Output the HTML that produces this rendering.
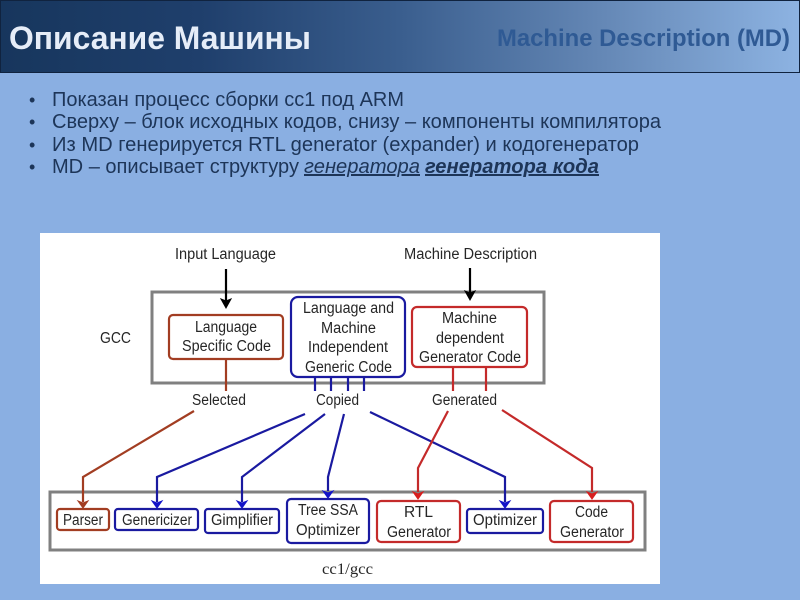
<!DOCTYPE html>
<html><head><meta charset="utf-8">
<style>
html,body{margin:0;padding:0;width:800px;height:600px;overflow:hidden;background:#8aafe2}
svg{display:block}
text{font-family:"Liberation Sans",sans-serif}
.d{filter:blur(.35px)}
.d text{fill:#262626;font-size:15.5px}
</style></head><body>
<svg width="800" height="600" viewBox="0 0 800 600" xmlns="http://www.w3.org/2000/svg">
<defs>
<linearGradient id="h" x1="0" x2="1" y1="0" y2="0">
<stop offset="0" stop-color="#17365d"/><stop offset=".25" stop-color="#1f3f6c"/><stop offset=".5" stop-color="#3a5e8e"/><stop offset=".75" stop-color="#6487b5"/><stop offset="1" stop-color="#8db3e2"/>
</linearGradient>
</defs>
<rect width="800" height="600" fill="#8aafe2"/>
<rect x="0.5" y="0.5" width="799" height="72" fill="url(#h)" stroke="#10233f"/>
<text x="9" y="49" font-size="32" font-weight="bold" fill="#e6edf8" textLength="302" lengthAdjust="spacingAndGlyphs">Описание Машины</text>
<text x="497" y="46" font-size="24" font-weight="bold" fill="#2f5a94" textLength="293" lengthAdjust="spacingAndGlyphs">Machine Description (MD)</text>
<g font-size="20" fill="#1d3558">
<text x="29" y="106" font-size="18">•</text>
<text x="52" y="106" textLength="352" lengthAdjust="spacingAndGlyphs">Показан процесс сборки cc1 под ARM</text>
<text x="29" y="128" font-size="18">•</text>
<text x="52" y="128" textLength="609" lengthAdjust="spacingAndGlyphs">Сверху – блок исходных кодов, снизу – компоненты компилятора</text>
<text x="29" y="151" font-size="18">•</text>
<text x="52" y="151" textLength="587" lengthAdjust="spacingAndGlyphs">Из MD генерируется RTL generator (expander) и кодогенератор</text>
<text x="29" y="173" font-size="18">•</text>
<text x="52" y="173" textLength="247" lengthAdjust="spacingAndGlyphs">MD – описывает структуру</text>
<text x="304" y="173" font-style="italic" text-decoration="underline" textLength="116" lengthAdjust="spacingAndGlyphs">генератора</text>
<text x="425" y="173" font-style="italic" font-weight="bold" text-decoration="underline" textLength="174" lengthAdjust="spacingAndGlyphs">генератора кода</text>
</g>
<rect x="40" y="233" width="620" height="351" fill="#fff"/>
<g class="d">
<g fill="none" stroke="#808080" stroke-width="3">
<rect x="152" y="292" width="392" height="91"/>
<rect x="50" y="492" width="595" height="58"/>
</g>
<g fill="none" stroke-width="2.2">
<g stroke="#a23d22">
<path d="M226 359V391"/>
<path d="M194 411L83 477V502"/>
<rect x="169" y="315" width="114" height="44" rx="4"/>
<rect x="57" y="509" width="52" height="21" rx="3"/>
</g>
<g stroke="#1a1aa0">
<path d="M315 377V391M331 377V391M348 377V391M364 377V391"/>
<path d="M305 414L157 477V502"/>
<path d="M325 414L242 477V502"/>
<path d="M344 414L328 477V491"/>
<path d="M370 412L505 477V502"/>
<rect x="291" y="297" width="114" height="80" rx="7"/>
<rect x="115" y="509" width="83" height="21" rx="3"/>
<rect x="205" y="509" width="74" height="24" rx="3"/>
<rect x="287" y="499" width="82" height="44" rx="4"/>
<rect x="467" y="509" width="76" height="24" rx="3"/>
</g>
<g stroke="#c42a2a">
<path d="M453 367V391M486 367V391"/>
<path d="M448 411L418 468V492"/>
<path d="M502 410L592 468V492"/>
<rect x="412" y="307" width="115" height="60" rx="5"/>
<rect x="377" y="501" width="83" height="41" rx="4"/>
<rect x="550" y="501" width="83" height="41" rx="4"/>
</g>
</g>
<path d="M226 269V302" stroke="#000" stroke-width="2.2" fill="none"/>
<path d="M221 299L226 308L231 299L226 301Z" fill="#000" stroke="#000"/>
<path d="M470 268V294" stroke="#000" stroke-width="2.2" fill="none"/>
<path d="M465 291L470 300L475 291L470 293Z" fill="#000" stroke="#000"/>
<g stroke-width="1">
<path d="M78 501L83 508L88 501L83 503Z" fill="#a23d22" stroke="#a23d22"/>
<path d="M152 501L157 508L162 501L157 503Z" fill="#1414c8" stroke="#1414c8"/>
<path d="M237 501L242 508L247 501L242 503Z" fill="#1414c8" stroke="#1414c8"/>
<path d="M323 491L328 498L333 491L328 493Z" fill="#1414c8" stroke="#1414c8"/>
<path d="M500 501L505 508L510 501L505 503Z" fill="#1414c8" stroke="#1414c8"/>
<path d="M413 492L418 499L423 492L418 494Z" fill="#d81e1e" stroke="#d81e1e"/>
<path d="M587 492L592 499L597 492L592 494Z" fill="#d81e1e" stroke="#d81e1e"/>
</g>
<text x="175" y="259" textLength="101" lengthAdjust="spacingAndGlyphs">Input Language</text>
<text x="404" y="259" textLength="133" lengthAdjust="spacingAndGlyphs">Machine Description</text>
<text x="100" y="343" textLength="31" lengthAdjust="spacingAndGlyphs">GCC</text>
<text x="195" y="332" textLength="62" lengthAdjust="spacingAndGlyphs">Language</text>
<text x="182" y="351" textLength="89" lengthAdjust="spacingAndGlyphs">Specific Code</text>
<text x="303" y="313" textLength="91" lengthAdjust="spacingAndGlyphs">Language and</text>
<text x="321" y="333" textLength="55" lengthAdjust="spacingAndGlyphs">Machine</text>
<text x="308" y="352" textLength="80" lengthAdjust="spacingAndGlyphs">Independent</text>
<text x="305" y="372" textLength="87" lengthAdjust="spacingAndGlyphs">Generic Code</text>
<text x="442" y="323" textLength="55" lengthAdjust="spacingAndGlyphs">Machine</text>
<text x="436" y="343" textLength="68" lengthAdjust="spacingAndGlyphs">dependent</text>
<text x="419" y="362" textLength="102" lengthAdjust="spacingAndGlyphs">Generator Code</text>
<text x="192" y="405" textLength="54" lengthAdjust="spacingAndGlyphs">Selected</text>
<text x="316" y="405" textLength="43" lengthAdjust="spacingAndGlyphs">Copied</text>
<text x="432" y="405" textLength="65" lengthAdjust="spacingAndGlyphs">Generated</text>
<text x="63" y="525" textLength="40" lengthAdjust="spacingAndGlyphs">Parser</text>
<text x="122" y="525" textLength="70" lengthAdjust="spacingAndGlyphs">Genericizer</text>
<text x="211" y="525" textLength="62" lengthAdjust="spacingAndGlyphs">Gimplifier</text>
<text x="298" y="515" textLength="60" lengthAdjust="spacingAndGlyphs">Tree SSA</text>
<text x="296" y="535" textLength="64" lengthAdjust="spacingAndGlyphs">Optimizer</text>
<text x="404" y="517" textLength="29" lengthAdjust="spacingAndGlyphs">RTL</text>
<text x="387" y="537" textLength="64" lengthAdjust="spacingAndGlyphs">Generator</text>
<text x="473" y="525" textLength="64" lengthAdjust="spacingAndGlyphs">Optimizer</text>
<text x="575" y="517" textLength="33" lengthAdjust="spacingAndGlyphs">Code</text>
<text x="560" y="537" textLength="64" lengthAdjust="spacingAndGlyphs">Generator</text>
<text x="322" y="574" textLength="51" lengthAdjust="spacingAndGlyphs" style="font-family:'Liberation Serif',serif">cc1/gcc</text>
</g>
</svg>
</body></html>
